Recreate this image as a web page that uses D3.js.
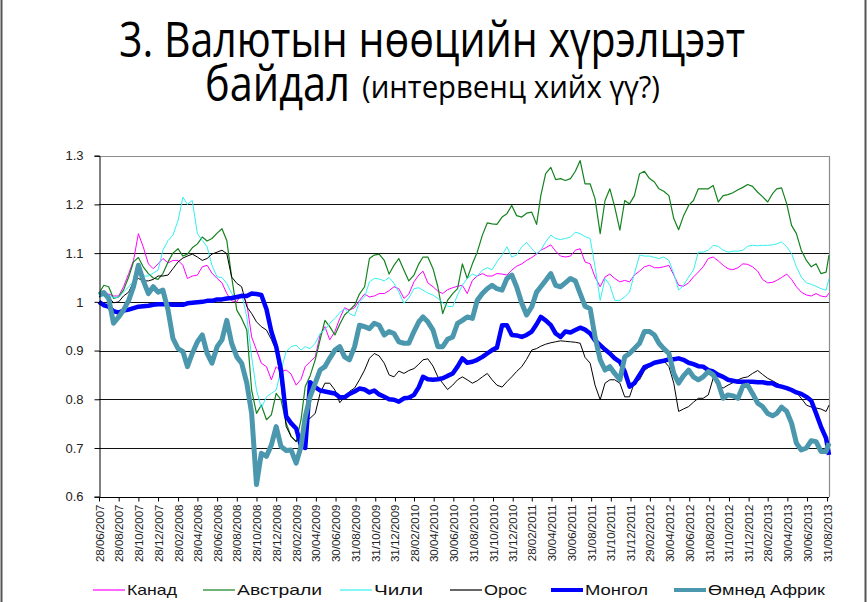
<!DOCTYPE html>
<html>
<head>
<meta charset="utf-8">
<script src="https://cdn.jsdelivr.net/npm/d3@7"></script>
<style>
  html, body { margin: 0; padding: 0; background: #fff; }
  svg { display: block; }
</style>
</head>
<body>
<svg id="chart"></svg>
<script>
const width = 868; // pixels
const height = 602; // pixels

// x-axis labels, every second month as in the source chart
const tickLabels = [
    "28/06/2007", "28/08/2007", "28/10/2007", "28/12/2007",
    "28/02/2008", "28/04/2008", "28/06/2008", "28/08/2008", "28/10/2008", "28/12/2008",
    "28/02/2009", "30/04/2009", "30/06/2009", "31/08/2009", "31/10/2009", "31/12/2009",
    "28/02/2010", "30/04/2010", "30/06/2010", "31/08/2010", "31/10/2010", "31/12/2010",
    "28/02/2011", "30/04/2011", "30/06/2011", "31/08/2011", "31/10/2011", "31/12/2011",
    "29/02/2012", "30/04/2012", "30/06/2012", "31/08/2012", "31/10/2012", "31/12/2012",
    "28/02/2013", "30/04/2013", "30/06/2013", "31/08/2013"
];
const yTicks = [0.6, 0.7, 0.8, 0.9, 1, 1.1, 1.2, 1.3];

// readings on the 28th of each month (Jun 2007 .. Aug 2013, last = 06/09/2013)
const canadaM = [1.010,1.016,1.012,1.058,1.140,1.078,1.078,1.080,1.085,1.048,
    1.055,1.075,1.048,1.017,1.000,0.997,0.901,0.867,0.867,0.860,
    0.829,0.867,0.887,0.949,0.939,0.988,0.988,1.016,1.012,1.017,
    1.031,1.007,1.041,1.063,1.031,1.017,1.029,1.034,1.044,1.058,
    1.053,1.057,1.065,1.078,1.091,1.106,1.117,1.094,1.094,1.109,
    1.078,1.031,1.057,1.041,1.041,1.063,1.075,1.070,1.075,1.034,
    1.039,1.061,1.089,1.084,1.068,1.070,1.077,1.063,1.039,1.044,
    1.057,1.031,1.014,1.017,1.010,1.018];
const australiaM = [1.017,1.031,1.010,1.051,1.091,1.058,1.046,1.082,1.109,1.098,
    1.119,1.125,1.141,1.126,0.983,0.942,0.771,0.758,0.812,0.751,
    0.713,0.826,0.881,0.962,0.932,0.973,0.993,1.031,1.096,1.085,
    1.075,1.065,1.055,1.092,1.068,0.976,1.017,1.078,1.078,1.137,
    1.160,1.174,1.198,1.174,1.184,1.218,1.276,1.253,1.253,1.290,
    1.242,1.140,1.232,1.147,1.201,1.263,1.253,1.232,1.218,1.148,
    1.198,1.232,1.232,1.205,1.220,1.230,1.241,1.225,1.205,1.232,
    1.201,1.140,1.085,1.078,1.061,1.096];
const chileM = [1.010,1.014,1.010,1.031,1.057,1.053,1.065,1.126,1.167,1.200,
    1.140,1.113,1.051,1.038,1.007,0.969,0.819,0.805,0.819,0.898,
    0.911,0.908,0.915,0.943,0.966,0.986,0.971,1.010,1.048,1.043,
    1.038,0.997,1.027,1.024,1.014,0.998,0.990,1.034,1.057,1.065,
    1.066,1.096,1.092,1.113,1.109,1.106,1.137,1.128,1.133,1.140,
    1.130,1.003,1.034,1.003,1.020,1.096,1.094,1.089,1.085,1.024,
    1.051,1.102,1.106,1.114,1.102,1.104,1.114,1.115,1.116,1.119,
    1.113,1.072,1.039,1.032,1.024,1.048];
const russiaM = [1.010,1.010,1.000,1.020,1.048,1.043,1.053,1.055,1.082,1.094,
    1.092,1.089,1.102,1.099,1.038,0.990,0.959,0.942,0.901,0.744,
    0.713,0.758,0.771,0.833,0.819,0.805,0.823,0.860,0.894,0.874,
    0.846,0.853,0.863,0.881,0.868,0.833,0.829,0.846,0.833,0.846,
    0.840,0.825,0.846,0.867,0.901,0.909,0.916,0.920,0.918,0.915,
    0.874,0.799,0.840,0.833,0.805,0.840,0.867,0.877,0.867,0.775,
    0.785,0.802,0.809,0.829,0.829,0.840,0.846,0.859,0.843,0.833,
    0.825,0.814,0.788,0.782,0.775,0.788];
const mongoliaM = [1.000,0.990,0.978,0.984,0.990,0.992,0.995,0.995,0.994,0.997,
    0.999,1.002,1.005,1.007,1.010,1.012,1.016,0.985,0.908,0.765,
    0.740,0.700,0.825,0.816,0.812,0.804,0.816,0.820,0.818,0.805,
    0.799,0.802,0.809,0.846,0.840,0.843,0.853,0.884,0.877,0.887,
    0.901,0.952,0.932,0.928,0.939,0.969,0.952,0.928,0.937,0.947,
    0.935,0.911,0.894,0.877,0.826,0.850,0.870,0.877,0.882,0.884,
    0.875,0.868,0.860,0.850,0.840,0.836,0.836,0.835,0.833,0.828,
    0.823,0.814,0.805,0.771,0.720,0.686];
const southAfricaM = [1.014,1.007,0.969,1.003,1.075,1.017,1.020,0.983,0.904,0.867,
    0.918,0.894,0.908,0.962,0.887,0.833,0.625,0.683,0.744,0.695,
    0.669,0.764,0.833,0.867,0.901,0.887,0.908,0.949,0.956,0.932,
    0.935,0.915,0.939,0.969,0.942,0.908,0.928,0.962,0.966,1.017,
    1.034,1.024,1.055,0.997,0.990,1.031,1.058,1.031,1.048,1.017,
    0.986,0.881,0.867,0.840,0.894,0.915,0.939,0.915,0.894,0.833,
    0.860,0.840,0.857,0.833,0.809,0.802,0.829,0.792,0.771,0.771,
    0.775,0.710,0.700,0.713,0.693,0.710];

// readings half a month later (13th of the next month)
const canadaH = [1.014,1.012,1.031,1.085,1.113,1.068,1.089,1.085,1.075,1.053,
    1.072,1.059,1.039,1.002,1.017,0.928,0.874,0.840,0.857,
    0.852,0.841,0.877,0.932,0.922,0.966,0.983,1.003,1.010,1.017,
    1.023,1.027,1.016,1.055,1.039,1.022,1.025,1.032,1.017,
    1.053,1.053,1.058,1.055,1.073,1.085,1.098,1.111,1.104,1.092,
    1.106,1.082,1.051,1.051,1.048,1.044,1.055,1.072,1.070,
    1.072,1.055,1.032,1.051,1.072,1.092,1.075,1.066,1.078,1.072,
    1.046,1.040,1.050,1.046,1.020,1.012,1.012];
const australiaH = [1.034,1.007,1.024,1.082,1.072,1.049,1.058,1.100,1.094,1.111,
    1.133,1.130,1.150,1.051,0.966,0.819,0.788,0.768,0.799,
    0.724,0.758,0.848,0.922,0.949,0.954,0.983,1.016,1.089,1.098,
    1.057,1.089,1.043,1.078,1.092,1.031,1.003,1.027,1.048,
    1.102,1.162,1.159,1.181,1.177,1.182,1.159,1.263,1.251,1.249,
    1.268,1.242,1.212,1.208,1.195,1.208,1.218,1.268,1.246,
    1.227,1.171,1.176,1.208,1.232,1.239,1.218,1.224,1.235,1.237,
    1.216,1.222,1.234,1.157,1.106,1.072,1.058];
const chileH = [1.012,1.008,1.020,1.043,1.053,1.059,1.106,1.137,1.215,1.208,
    1.126,1.075,1.050,1.017,1.017,0.887,0.782,0.812,0.860,
    0.908,0.901,0.904,0.935,0.956,0.978,0.976,1.000,1.041,1.047,
    1.050,1.020,1.008,1.029,1.018,1.007,0.991,1.014,1.048,
    1.053,1.070,1.082,1.113,1.096,1.122,1.099,1.123,1.130,1.130,
    1.143,1.134,1.072,1.048,1.003,1.010,1.058,1.094,1.091,
    1.092,1.058,1.034,1.065,1.102,1.116,1.106,1.104,1.106,1.116,
    1.116,1.117,1.123,1.099,1.051,1.036,1.027];
const russiaH = [1.016,0.998,1.012,1.041,1.043,1.046,1.053,1.068,1.090,1.098,
    1.085,1.098,1.106,1.051,1.031,0.976,0.949,0.923,0.833,
    0.724,0.727,0.761,0.812,0.833,0.793,0.816,0.840,0.884,0.889,
    0.850,0.858,0.859,0.872,0.883,0.846,0.820,0.840,0.840,
    0.838,0.853,0.829,0.836,0.857,0.882,0.904,0.913,0.918,0.919,
    0.917,0.886,0.829,0.833,0.840,0.805,0.835,0.859,0.875,
    0.879,0.833,0.780,0.794,0.802,0.843,0.823,0.834,0.844,0.853,
    0.851,0.838,0.828,0.818,0.802,0.784,0.780];
const mongoliaH = [0.993,0.981,0.982,0.987,0.991,0.994,0.995,0.994,0.994,0.998,
    1.000,1.002,1.005,1.008,1.012,1.017,1.014,0.939,0.860,
    0.751,0.704,0.835,0.818,0.814,0.804,0.811,0.822,0.814,0.810,
    0.800,0.795,0.803,0.825,0.841,0.841,0.848,0.867,0.875,
    0.881,0.894,0.906,0.952,0.931,0.932,0.954,0.962,0.935,0.939,
    0.942,0.943,0.921,0.902,0.884,0.857,0.833,0.866,0.875,
    0.879,0.882,0.881,0.872,0.867,0.857,0.846,0.838,0.836,0.836,
    0.835,0.833,0.826,0.819,0.811,0.797,0.744];
const southAfricaH = [1.019,0.956,0.983,1.031,1.044,1.031,1.024,0.925,0.898,0.894,
    0.932,0.874,0.922,0.915,0.874,0.771,0.689,0.706,0.703,
    0.696,0.703,0.805,0.860,0.884,0.908,0.881,0.952,0.945,0.952,
    0.939,0.918,0.915,0.959,0.959,0.908,0.923,0.956,0.969,
    1.003,1.027,1.027,1.048,1.031,0.973,1.020,1.044,1.034,1.039,
    1.043,0.991,0.928,0.860,0.853,0.887,0.904,0.939,0.932,
    0.904,0.853,0.848,0.846,0.846,0.850,0.802,0.807,0.827,0.812,
    0.785,0.766,0.784,0.751,0.696,0.715,0.693];

const seriesNames = ["Канад", "Австрали", "Чили", "Орос", "Монгол", "Өмнөд Африк"];
const seriesColors = ["#ff00ff", "#14821e", "#33f0f0", "#000000", "#0000ff", "#4b97ad"];
const seriesWidths = [1, 1.2, 1, 1, 4.5, 5];

const parse = d3.timeParse("%d/%m/%Y");
const start = parse("28/06/2007");
const end = parse("06/09/2013");

// month-end + mid-month readings woven into one date-ordered list
const weave = (m, h) => {
    const out = [];
    for (let i = 0; i < 75; ++i) {
        const d = d3.timeMonth.offset(start, i);
        out.push([d, m[i]]);
        if (i < h.length) out.push([d3.timeDay.offset(d, 15), h[i]]);
    }
    out.push([end, m[75]]);
    return out;
};

const monthly = [canadaM, australiaM, chileM, russiaM, mongoliaM, southAfricaM];
const midMonth = [canadaH, australiaH, chileH, russiaH, mongoliaH, southAfricaH];
const series = seriesNames.map((name, k) => ({
    name,
    color: seriesColors[k],
    lw: seriesWidths[k],
    points: weave(monthly[k], midMonth[k])
}));

const x = d3.scaleTime([start, end], [99, 829]);
const y = d3.scaleLinear([0.6, 1.3], [496.7, 155.7]);

const svg = d3.select("#chart")
    .attr("width", width)
    .attr("height", height)
    .attr("viewBox", [0, 0, width, height]);

svg.append("rect").attr("width", width).attr("height", height).attr("fill", "#fff");

// slide edges
svg.append("line").attr("x1", 1.5).attr("x2", 1.5).attr("y1", 0).attr("y2", height)
    .attr("stroke", "#555").attr("stroke-width", 2);
svg.append("line").attr("x1", 865.5).attr("x2", 865.5).attr("y1", 0).attr("y2", height)
    .attr("stroke", "#555").attr("stroke-width", 2);

// title
const title = svg.append("g").attr("font-family", "'Open Sans', 'Noto Sans', sans-serif").attr("fill", "#000");
title.append("text").attr("x", 119).attr("y", 57).attr("font-size", 50)
    .attr("textLength", 626).attr("lengthAdjust", "spacingAndGlyphs")
    .text("3. Валютын нөөцийн хүрэлцээт");
title.append("text").attr("x", 205).attr("y", 101).attr("font-size", 50)
    .attr("textLength", 145).attr("lengthAdjust", "spacingAndGlyphs")
    .text("байдал");
title.append("text").attr("x", 362).attr("y", 98).attr("font-size", 31)
    .attr("textLength", 298).attr("lengthAdjust", "spacingAndGlyphs")
    .text("(интервенц хийх үү?)");

// grid
svg.append("g")
    .attr("stroke", "#111")
    .attr("stroke-width", 1)
    .selectAll("line")
    .data(yTicks.filter(d => d > 0.6 && d < 1.3))
    .join("line")
    .attr("x1", 99).attr("x2", 829)
    .attr("y1", d => Math.round(y(d)) + 0.5).attr("y2", d => Math.round(y(d)) + 0.5);

// plot frame (top and right in grey)
svg.append("path")
    .attr("d", `M99,${Math.round(y(1.3)) + 0.5}H829.5V${Math.round(y(0.6))}`)
    .attr("fill", "none").attr("stroke", "#8c8c8c").attr("stroke-width", 1.2);

// lines
const line = d3.line().x(d => x(d[0])).y(d => y(d[1]));
svg.append("g")
    .attr("fill", "none")
    .attr("stroke-linejoin", "round")
    .selectAll("path")
    .data(series)
    .join("path")
    .attr("stroke", d => d.color)
    .attr("stroke-width", d => d.lw)
    .attr("d", d => line(d.points));

// y axis
const yAxis = g => g
    .attr("transform", "translate(99.5,0)")
    .call(d3.axisLeft(y).tickValues(yTicks).tickSize(5).tickFormat(d => d === 1 ? "1" : d3.format(".1f")(d)))
    .call(g => g.select(".domain").attr("stroke", "#000"))
    .call(g => g.selectAll(".tick line").attr("stroke", "#000"))
    .call(g => g.selectAll(".tick text")
        .attr("x", -16)
        .attr("font-family", "'Liberation Sans', Arial, sans-serif")
        .attr("font-size", 13)
        .attr("fill", "#222"));
svg.append("g").call(yAxis);

// x axis
const xAxis = g => g
    .attr("transform", `translate(0,${Math.round(y(0.6)) + 0.5})`)
    .call(d3.axisBottom(x).tickValues(tickLabels.map(parse)).tickSize(4).tickFormat(d3.timeFormat("%d/%m/%Y")))
    .call(g => g.select(".domain").attr("stroke", "#000").attr("d", "M99,0H829"))
    .call(g => g.selectAll(".tick line").attr("stroke", "#000"))
    .call(g => g.selectAll(".tick text")
        .attr("transform", "rotate(-90)")
        .attr("text-anchor", "end")
        .attr("x", -7)
        .attr("y", 0)
        .attr("dy", "0.35em")
        .attr("font-family", "'Liberation Sans', Arial, sans-serif")
        .attr("font-size", 11.5)
        .attr("fill", "#222"));
svg.append("g").call(xAxis);

// legend
const legendX = [93, 203, 340, 450, 551, 674];
const legendW = [50, 85, 49, 43, 63, 117];
const legend = svg.append("g")
    .attr("font-family", "'Liberation Sans', Arial, sans-serif")
    .attr("font-size", 15)
    .selectAll("g")
    .data(series)
    .join("g")
    .attr("transform", (d, i) => `translate(${legendX[i]},590)`);
legend.append("line")
    .attr("x1", 0).attr("x2", 32)
    .attr("stroke", d => d.color)
    .attr("stroke-width", d => d.lw > 2 ? 4 : 1.2);
legend.append("text")
    .attr("x", 34).attr("dy", "0.35em")
    .attr("fill", "#111")
    .attr("textLength", (d, i) => legendW[i])
    .attr("lengthAdjust", "spacingAndGlyphs")
    .text(d => d.name);
</script>
</body>
</html>
